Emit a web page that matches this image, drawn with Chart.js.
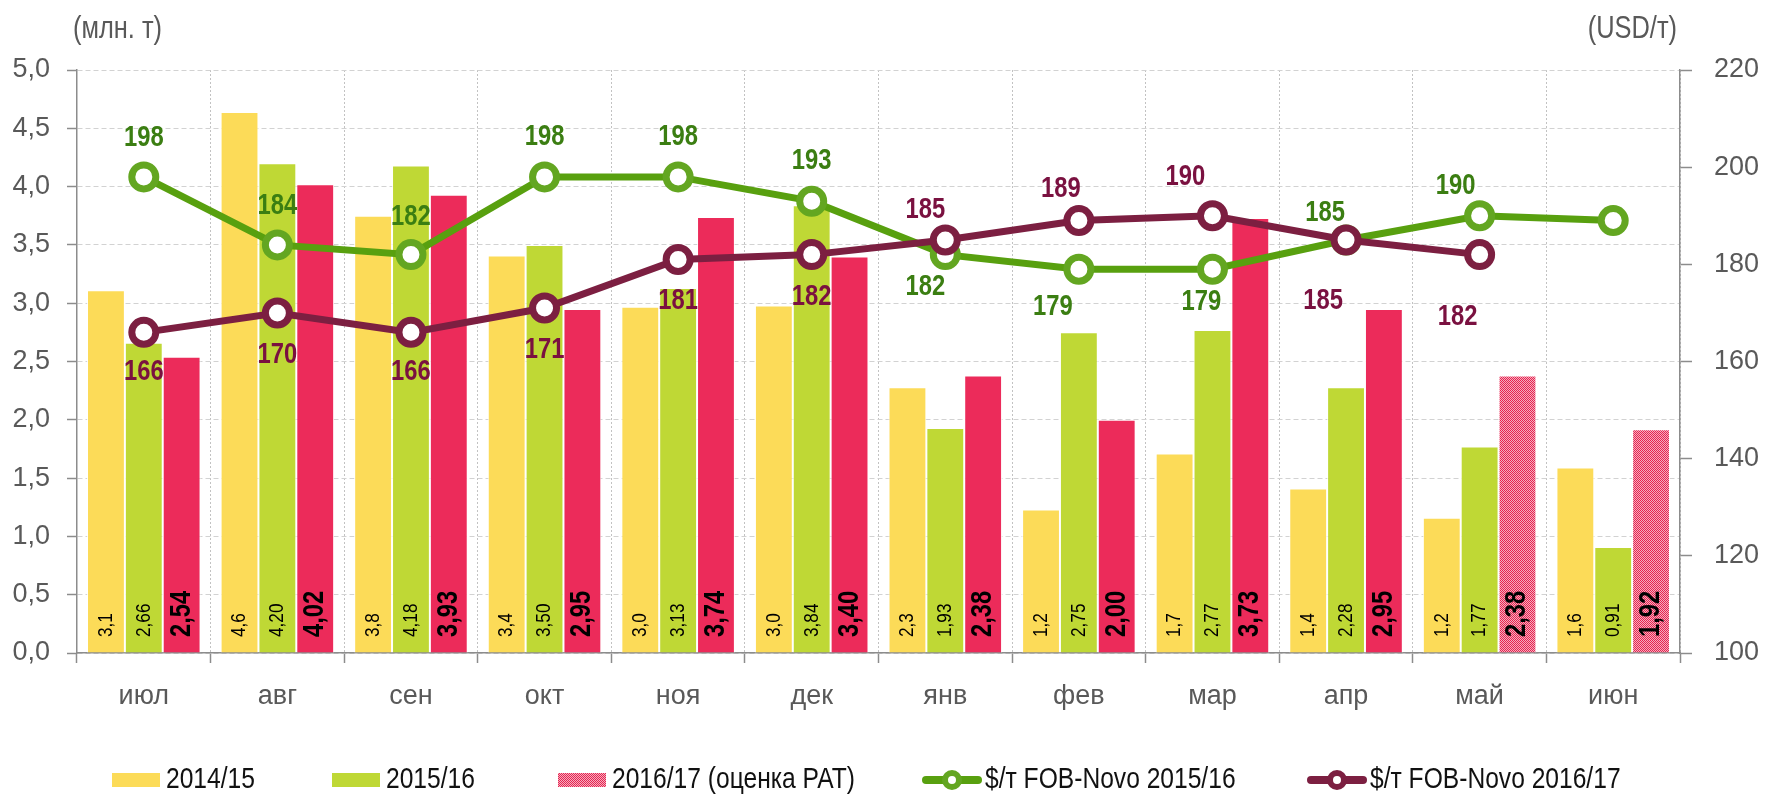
<!DOCTYPE html>
<html>
<head>
<meta charset="utf-8">
<script src="https://cdn.jsdelivr.net/npm/chart.js@4/dist/chart.umd.min.js"></script>
<style>
html, body { margin: 0; padding: 0; background: #fff; }
#wrap { width: 1767px; height: 794px; }
</style>
</head>
<body>
<div id="wrap"><canvas id="myChart" width="1767" height="794"></canvas></div>
<script>
// data
var months = ['июл', 'авг', 'сен', 'окт', 'ноя', 'дек', 'янв', 'фев', 'мар', 'апр', 'май', 'июн'];
var vol1415 = [3.11, 4.64, 3.75, 3.41, 2.97, 2.98, 2.28, 1.23, 1.71, 1.41, 1.16, 1.59];
var vol1516 = [2.66, 4.20, 4.18, 3.50, 3.13, 3.84, 1.93, 2.75, 2.77, 2.28, 1.77, 0.91];
var vol1617 = [2.54, 4.02, 3.93, 2.95, 3.74, 3.40, 2.38, 2.00, 3.73, 2.95, 2.38, 1.92];
var estimate1617 = [false, false, false, false, false, false, false, false, false, false, true, true];
var price1516 = [198, 184, 182, 198, 198, 193, 182, 179, 179, 185, 190, 189];
var price1617 = [166, 170, 166, 171, 181, 182, 185, 189, 190, 185, 182, null];
var showPrice1516 = [true, true, true, true, true, true, true, true, true, true, true, false];

var seriesNames = ['2014/15', '2015/16', '2016/17 (оценка РАТ)', '$/т FOB-Novo 2015/16', '$/т FOB-Novo 2016/17'];
var leftUnit = '(млн. т)';
var rightUnit = '(USD/т)';

// label placement (offsets from the point, px)
var greenDx = [0, 0, 0, 0, 0, 0, -20, -26, -11, -21, -24, 0];
var greenDy = [-39, -39, -38, -40, -40, -40, 32, 38, 33, -27, -30, 0];
var redDx = [0, 0, 0, 0, 0, 0, -20, -18, -27, -23, -22, 0];
var redDy = [40, 42, 40, 42, 42, 42, -30, -32, -39, 61, 62, 0];

var FONT = '"Liberation Sans", Arial, sans-serif';
var NARROW = 0.82;
var cYellow = '#FCDB58';
var cGreen = '#BFD835';
var cRed = '#EC2B5A';
var cLine1 = '#58A00F';
var cRing1 = '#63A621';
var cLine2 = '#7C1F41';
var cText1 = '#3B7E12';
var cText2 = '#7A1140';
var cAxis = '#8c8c8c';
var cTick = '#595959';

function comma(v, d) { return Number(v).toFixed(d).replace('.', ','); }

// text squeezed sideways, like Arial Narrow
function narrowText(ctx, txt, x, y, align, rot) {
	ctx.save();
	ctx.translate(x, y);
	if (rot) ctx.rotate(rot);
	ctx.scale(NARROW, 1);
	ctx.textAlign = align;
	ctx.textBaseline = 'middle';
	ctx.fillText(txt, 0, 0);
	ctx.restore();
}

// checker pattern for the estimate bars
var pc = document.createElement('canvas');
pc.width = 2; pc.height = 2;
var pctx = pc.getContext('2d');
pctx.fillStyle = '#f3aebf'; pctx.fillRect(0, 0, 2, 2);
pctx.fillStyle = '#E8234F'; pctx.fillRect(0, 0, 1, 1); pctx.fillRect(1, 1, 1, 1);
var ctxMain = document.getElementById('myChart').getContext('2d');
var hatch = ctxMain.createPattern(pc, 'repeat');

var redColors = estimate1617.map(e => e ? hatch : cRed);

var labelPlugin = {
	id: 'labelPlugin',
	afterDatasetsDraw(chart) {
		var ctx = chart.ctx;
		var zeroY = chart.scales.y.getPixelForValue(0);
		ctx.save();
		ctx.fillStyle = '#000';
		[0, 1, 2].forEach(i => {
			var meta = chart.getDatasetMeta(i);
			ctx.font = i === 2 ? 'bold 29px ' + FONT : '21px ' + FONT;
			meta.data.forEach((bar, j) => {
				var v = chart.data.datasets[i].data[j];
				narrowText(ctx, comma(v, i === 0 ? 1 : 2), bar.x, zeroY - 16, 'left', -Math.PI / 2);
			});
		});
		var lines = [
			{ idx: 3, dx: greenDx, dy: greenDy, color: cText1, show: showPrice1516 },
			{ idx: 4, dx: redDx, dy: redDy, color: cText2, show: null }
		];
		ctx.font = 'bold 29px ' + FONT;
		lines.forEach(l => {
			var meta = chart.getDatasetMeta(l.idx);
			var data = chart.data.datasets[l.idx].data;
			ctx.fillStyle = l.color;
			meta.data.forEach((pt, j) => {
				if (data[j] == null) return;
				if (l.show && !l.show[j]) return;
				narrowText(ctx, String(data[j]), pt.x + l.dx[j], pt.y + l.dy[j], 'center');
			});
		});
		ctx.restore();
	},
	afterDraw(chart) {
		var ctx = chart.ctx;
		var area = chart.chartArea;
		ctx.save();
		// unit titles
		ctx.font = '31px ' + FONT;
		ctx.fillStyle = cTick;
		narrowText(ctx, leftUnit, area.left - 4, 29, 'left');
		narrowText(ctx, rightUnit, area.right - 3, 29, 'right');

		// legend
		var ly = 780;
		var starts = [112, 332, 558, 923, 1308];
		ctx.font = '30px ' + FONT;
		var fills = [cYellow, cGreen, hatch];
		for (var k = 0; k < 3; k++) {
			ctx.fillStyle = fills[k];
			ctx.fillRect(starts[k], ly - 7, 48, 14);
			ctx.fillStyle = '#111';
			narrowText(ctx, seriesNames[k], starts[k] + 54, ly, 'left');
		}
		var lc = [[cLine1, cRing1], [cLine2, cLine2]];
		for (var m = 0; m < 2; m++) {
			var x0 = starts[3 + m];
			ctx.strokeStyle = lc[m][0];
			ctx.lineWidth = 8;
			ctx.lineCap = 'round';
			ctx.beginPath();
			ctx.moveTo(x0 + 3, ly);
			ctx.lineTo(x0 + 55, ly);
			ctx.stroke();
			ctx.beginPath();
			ctx.arc(x0 + 29, ly, 7, 0, Math.PI * 2);
			ctx.fillStyle = '#fff';
			ctx.fill();
			ctx.lineWidth = 6;
			ctx.strokeStyle = lc[m][1];
			ctx.stroke();
			ctx.fillStyle = '#111';
			narrowText(ctx, seriesNames[3 + m], x0 + 62, ly, 'left');
		}
		ctx.restore();
	}
};

var barCommon = {
	type: 'bar',
	yAxisID: 'y',
	order: 2,
	borderColor: 'rgba(255,255,255,0.85)',
	borderWidth: 1,
	categoryPercentage: 0.85,
	barPercentage: 1.0
};

var myChart = new Chart(ctxMain, {
	data: {
		labels: months,
		datasets: [
			Object.assign({}, barCommon, { label: seriesNames[0], data: vol1415, backgroundColor: cYellow }),
			Object.assign({}, barCommon, { label: seriesNames[1], data: vol1516, backgroundColor: cGreen }),
			Object.assign({}, barCommon, { label: seriesNames[2], data: vol1617, backgroundColor: redColors }),
			{
				type: 'line', label: seriesNames[3], data: price1516, yAxisID: 'y2', order: 1,
				borderColor: cLine1, borderWidth: 7,
				pointRadius: 12, pointBorderWidth: 7, pointBorderColor: cRing1, pointBackgroundColor: '#fff',
				tension: 0
			},
			{
				type: 'line', label: seriesNames[4], data: price1617, yAxisID: 'y2', order: 0,
				borderColor: cLine2, borderWidth: 7,
				pointRadius: 12, pointBorderWidth: 7, pointBorderColor: cLine2, pointBackgroundColor: '#fff',
				tension: 0, spanGaps: false
			}
		]
	},
	options: {
		responsive: false,
		maintainAspectRatio: false,
		animation: false,
		layout: { padding: { top: 70, left: 0, right: 0, bottom: 0 } },
		plugins: { legend: { display: false }, tooltip: { enabled: false } },
		scales: {
			x: {
				offset: true,
				grid: { offset: true, color: '#c2c2c2', tickColor: cAxis, tickLength: 10, tickWidth: 1.5, tickBorderDash: [] },
				border: { color: cAxis, width: 1.5, dash: [2, 2] },
				ticks: { font: { family: FONT, size: 27 }, color: cTick, padding: 17 },
				afterFit: function (s) { s.height = 141; }
			},
			y: {
				position: 'left',
				min: 0, max: 5,
				ticks: { stepSize: 0.5, font: { family: FONT, size: 27 }, color: cTick, padding: 17,
					callback: v => comma(v, 1) },
				grid: { color: '#d2d2d2', tickColor: cAxis, tickLength: 10, tickWidth: 1.5, tickBorderDash: [] },
				border: { color: cAxis, width: 1.5, dash: [5, 3] },
				afterFit: function (s) { s.width = 77; }
			},
			y2: {
				position: 'right',
				min: 100, max: 220,
				ticks: { stepSize: 20, font: { family: FONT, size: 27 }, color: cTick, padding: 22 },
				grid: { drawOnChartArea: false, tickColor: cAxis, tickLength: 12, tickWidth: 1.5 },
				border: { color: cAxis, width: 1.5 },
				afterFit: function (s) { s.width = 87; }
			}
		}
	},
	plugins: [labelPlugin]
});
</script>
</body>
</html>
